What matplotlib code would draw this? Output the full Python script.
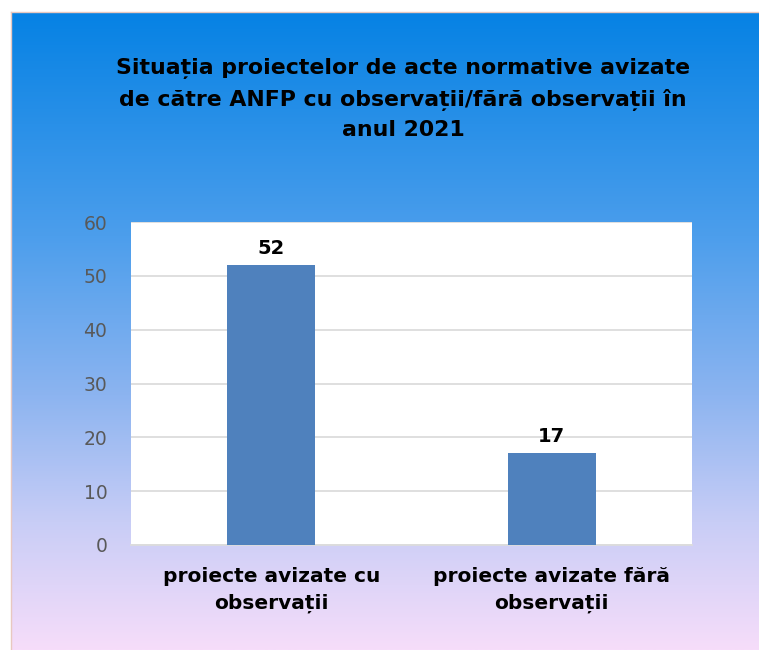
#!/usr/bin/env python3
"""
Bar chart: proiecte de acte normative avizate de ANFP in 2021
"""

import matplotlib
matplotlib.use('Agg')
import matplotlib.pyplot as plt
import numpy as np
from matplotlib.colors import LinearSegmentedColormap

categories = ['proiecte avizate cu\nobservații', 'proiecte avizate fără\nobservații']
values = [52, 17]
yticks = [0, 10, 20, 30, 40, 50, 60]
title = ('Situația proiectelor de acte normative avizate\n'
         'de către ANFP cu observații/fără observații în\n'
         'anul 2021')

plt.rcParams['font.family'] = ['DejaVu Sans']

fig = plt.figure(figsize=(7.59, 6.5), dpi=100)
fig.patch.set_facecolor('white')

# Gradient background panel
bg = fig.add_axes([11 / 759, 0, 1 - 11 / 759, 1 - 12 / 650])
stops = [(0.0, (6, 130, 228)), (0.35, (76, 158, 236)), (0.6, (140, 180, 240)),
         (0.8, (200, 205, 246)), (1.0, (246, 221, 250))]
cmap = LinearSegmentedColormap.from_list(
    'bg', [(p, tuple(c / 255 for c in rgb)) for p, rgb in stops])
grad = np.linspace(0, 1, 256).reshape(-1, 1)
bg.imshow(grad, aspect='auto', cmap=cmap, extent=[0, 1, 0, 1], origin='upper')
bg.set_xticks([])
bg.set_yticks([])
for side, sp in bg.spines.items():
    sp.set_color('#e8c8c0')
    sp.set_linewidth(1)
bg.spines['right'].set_visible(False)
bg.spines['bottom'].set_visible(False)

# Plot area
ax = fig.add_axes([131 / 759, 1 - 545 / 650, (692 - 131) / 759, (545 - 222) / 650])
ax.set_facecolor('white')
x = np.arange(len(categories))
bars = ax.bar(x, values, width=0.315, color='#4f81bd', zorder=3)
ax.set_xlim(-0.5, 1.5)
ax.set_ylim(0, 60)
ax.set_yticks(yticks)
ax.yaxis.grid(True, color='#dcdcdc', linewidth=1.3, zorder=0)
ax.set_axisbelow(True)
for sp in ['left', 'right', 'top']:
    ax.spines[sp].set_visible(False)
ax.spines['bottom'].set_color('#dcdcdc')
ax.spines['bottom'].set_linewidth(1.3)
ax.tick_params(axis='y', length=0, pad=17, labelsize=13.5, labelcolor='#595959')
ax.tick_params(axis='x', length=0, pad=16)
ax.set_xticks(x)
ax.set_xticklabels(categories, fontsize=14.5, fontweight='bold', color='black',
                   linespacing=1.5)

for b, v in zip(bars, values):
    ax.text(b.get_x() + b.get_width() / 2, v + 1.4, str(v), ha='center', va='bottom',
            fontsize=14, fontweight='bold', color='black')

fig.text(403 / 759, 1 - 99 / 650, title, ha='center', va='center', fontsize=15.8,
         fontweight='bold', color='black', linespacing=1.58)

fig.savefig('out.png', dpi=100, facecolor='white')
plt.close(fig)
